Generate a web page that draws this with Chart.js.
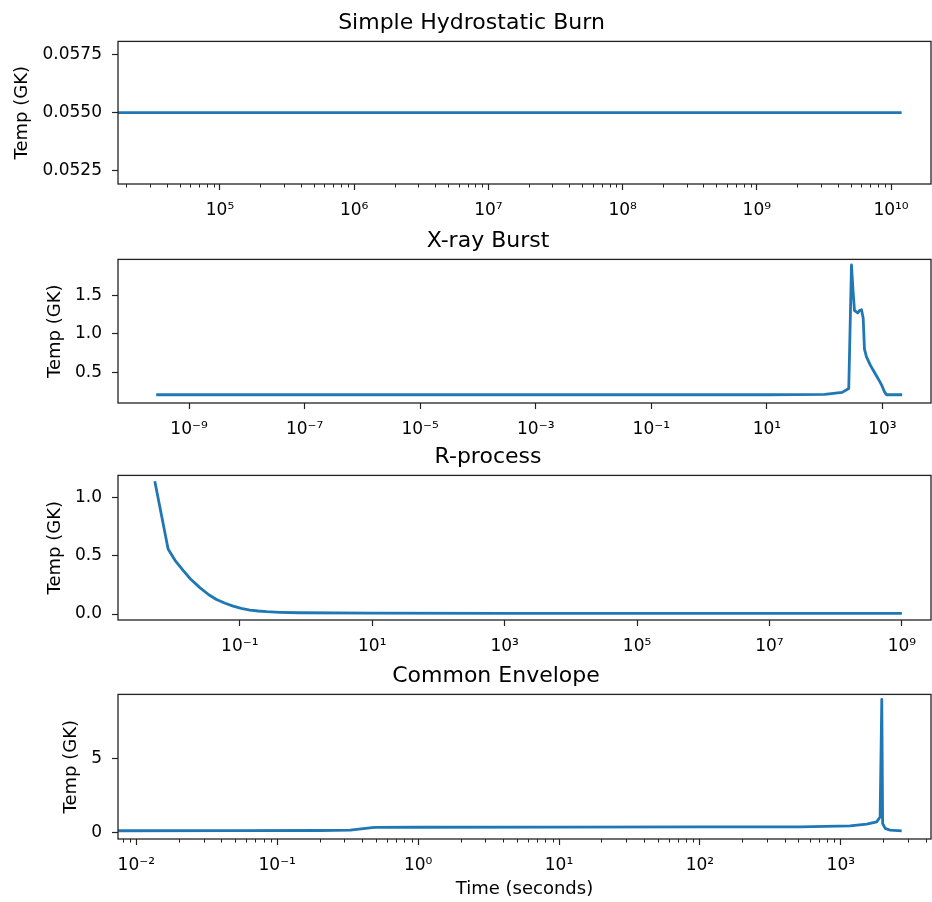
<!DOCTYPE html>
<html>
<head>
<meta charset="utf-8">
<script src="https://cdn.jsdelivr.net/npm/chart.js@4.4.0/dist/chart.umd.min.js"></script>
<style>
body { margin: 0; background: #fff; }
#wrap { position: relative; width: 932px; height: 902px; overflow: hidden; }
canvas { position: absolute; left: 0; }
</style>
</head>
<body>
<div id="wrap">
<canvas id="c0" width="932" height="230" style="top:0px"></canvas>
<canvas id="c1" width="932" height="230" style="top:218px"></canvas>
<canvas id="c2" width="932" height="230" style="top:434px"></canvas>
<canvas id="c3" width="932" height="249" style="top:653px"></canvas>
</div>
<script>
// values
const hydroTime = [1e4, 1.2e10];
const hydroTemp = [0.055, 0.055];

const xrayTime = [2.7e-10, 1e-6, 1e-2, 1, 10, 100, 201, 261, 291, 310, 328, 374, 400, 434, 464, 488, 529, 620, 700, 809, 900, 988, 1080, 1173, 2193];
const xrayTemp = [0.21, 0.21, 0.21, 0.21, 0.21, 0.215, 0.24, 0.29, 1.89, 1.55, 1.30, 1.27, 1.30, 1.31, 1.20, 0.80, 0.70, 0.59, 0.52, 0.44, 0.38, 0.32, 0.25, 0.21, 0.21];

const rprocTime = [0.0052, 0.00826, 0.0105, 0.0139, 0.018, 0.0249, 0.034, 0.0444, 0.06, 0.0793, 0.105, 0.142, 0.19, 0.253, 0.4, 0.805, 10, 1000, 1e9];
const rprocTemp = [1.136, 0.557, 0.46, 0.373, 0.30, 0.226, 0.165, 0.124, 0.092, 0.068, 0.048, 0.034, 0.026, 0.02, 0.015, 0.011, 0.007, 0.006, 0.006];

const ceTime = [0.005, 0.05, 0.2, 0.33, 0.47, 0.5, 1, 10, 100, 514, 1163, 1528, 1798, 1900, 1953, 1980, 2063, 2235, 2704];
const ceTemp = [0.09, 0.1, 0.11, 0.14, 0.3, 0.32, 0.33, 0.34, 0.35, 0.36, 0.43, 0.54, 0.70, 1.03, 9.05, 0.6, 0.25, 0.14, 0.09];

const panelTitles = ['Simple Hydrostatic Burn', 'X-ray Burst', 'R-process', 'Common Envelope'];
const xTickExps = [[5, 6, 7, 8, 9, 10], [-9, -7, -5, -3, -1, 1, 3], [-1, 1, 3, 5, 7, 9], [-2, -1, 0, 1, 2, 3]];
const yTickVals = [[0.0525, 0.055, 0.0575], [0.5, 1.0, 1.5], [0.0, 0.5, 1.0], [0, 5]];
const yDecimals = [4, 1, 1, 0];
const xLogRanges = [[4.24, 10.298], [-10.23, 3.84], [-2.84, 9.44], [-2.13, 3.64]];
const yRanges = [[0.05192, 0.05808], [0.103, 1.962], [-0.051, 1.186], [-0.47, 9.39]];

const series = [[hydroTime, hydroTemp], [xrayTime, xrayTemp], [rprocTime, rprocTemp], [ceTime, ceTemp]];

// layout bits
const padLeft = [12, 45, 45, 61];
const xAxisHeight = [46, 45, 44, 63];
const minorTicks = [true, false, false, true];

Chart.defaults.font.family = "'DejaVu Sans', sans-serif";
Chart.defaults.font.size = 17;
Chart.defaults.color = '#000';

const SUP = {'-': '\u207B', '0': '\u2070', '1': '\u00B9', '2': '\u00B2', '3': '\u00B3', '4': '\u2074',
             '5': '\u2075', '6': '\u2076', '7': '\u2077', '8': '\u2078', '9': '\u2079'};
function powLabel(v) {
    var e = String(Math.round(Math.log10(v)));
    return '10' + e.split('').map(c => SUP[c]).join('');
}

const framePlugin = {
    id: 'frame',
    afterDatasetsDraw(chart) {
        const a = chart.chartArea, ctx = chart.ctx;
        ctx.save();
        ctx.strokeStyle = '#222';
        ctx.lineWidth = 1.3;
        ctx.strokeRect(a.left, a.top, a.right - a.left, a.bottom - a.top);
        if (chart.options.plugins.frame.minor) {
            const xs = chart.scales.x;
            ctx.lineWidth = 1;
            for (let n = Math.floor(Math.log10(xs.min)); n <= Math.ceil(Math.log10(xs.max)); n++) {
                for (let k = 2; k <= 9; k++) {
                    const v = k * Math.pow(10, n);
                    if (v < xs.min || v > xs.max) continue;
                    const px = Math.round(xs.getPixelForValue(v)) + 0.5;
                    ctx.beginPath();
                    ctx.moveTo(px, a.bottom);
                    ctx.lineTo(px, a.bottom + 3.5);
                    ctx.stroke();
                }
            }
        }
        ctx.restore();
    }
};

function makeChart(i) {
    const time = series[i][0], temp = series[i][1];
    const pts = time.map((t, j) => ({x: t, y: temp[j]}));
    return new Chart(document.getElementById('c' + i), {
        type: 'line',
        data: {
            datasets: [{
                data: pts,
                borderColor: '#1f77b4',
                borderWidth: 2.8,
                pointRadius: 0,
                tension: 0,
                borderJoinStyle: 'round',
                fill: false
            }]
        },
        options: {
            responsive: false,
            animation: false,
            layout: {padding: {top: 10, left: padLeft[i], right: 1, bottom: 0}},
            scales: {
                x: {
                    type: 'logarithmic',
                    bounds: 'data',
                    min: Math.pow(10, xLogRanges[i][0]),
                    max: Math.pow(10, xLogRanges[i][1]),
                    afterBuildTicks: s => { s.ticks = xTickExps[i].map(e => ({value: Math.pow(10, e), major: true})); },
                    afterFit: s => { s.height = xAxisHeight[i]; },
                    ticks: {autoSkip: false, maxRotation: 0, padding: 10, color: '#000',
                            callback: v => powLabel(v)},
                    grid: {drawOnChartArea: false, drawTicks: true, tickLength: 6, color: '#222', tickColor: '#222', tickWidth: 1.2},
                    border: {display: false},
                    title: {display: i === 3, text: 'Time (seconds)', font: {size: 18}, padding: {top: 0, bottom: 2}, color: '#000'}
                },
                y: {
                    type: 'linear',
                    bounds: 'data',
                    min: yRanges[i][0],
                    max: yRanges[i][1],
                    afterBuildTicks: s => { s.ticks = yTickVals[i].map(v => ({value: v})); },
                    afterFit: s => { s.width = 118 - padLeft[i]; },
                    ticks: {padding: 10, color: '#000', callback: v => Number(v).toFixed(yDecimals[i])},
                    grid: {drawOnChartArea: false, drawTicks: true, tickLength: 6, color: '#222', tickColor: '#222', tickWidth: 1.2},
                    border: {display: false},
                    title: {display: true, text: 'Temp (GK)', font: {size: 18}, padding: 0, color: '#000'}
                }
            },
            plugins: {
                legend: {display: false},
                tooltip: {enabled: false},
                title: {display: true, text: panelTitles[i], font: {size: 22, weight: 'normal'}, color: '#000',
                        padding: {top: 0, bottom: 5}},
                frame: {minor: minorTicks[i]}
            }
        },
        plugins: [framePlugin]
    });
}

for (let i = 0; i < 4; i++) makeChart(i);
</script>
</body>
</html>
